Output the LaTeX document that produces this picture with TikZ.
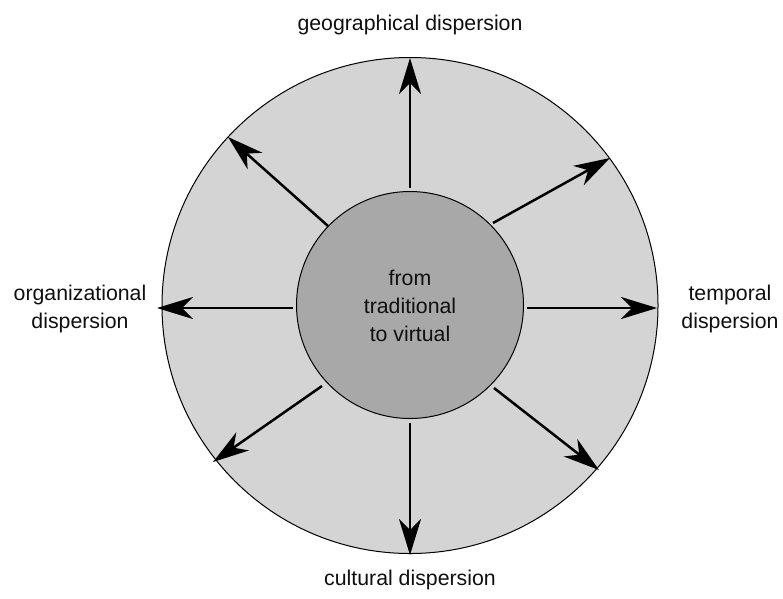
\documentclass[tikz,border=0pt]{standalone}
\usepackage{fontspec}
\setmainfont{Liberation Sans}
\usetikzlibrary{arrows.meta}
\definecolor{outerfill}{RGB}{212,212,212}
\definecolor{innerfill}{RGB}{168,168,168}
\definecolor{txt}{RGB}{15,15,15}
\begin{document}
\begin{tikzpicture}[x=1pt,y=-1pt,
  ring/.style={circle,draw=black,line width=1pt,inner sep=0pt},
  spoke/.style={line width=2.5pt,-{Stealth[length=36pt,width=22pt,inset=11pt]}},
  lbl/.style={font=\fontsize{21.3}{28}\selectfont,text=txt,align=center,inner sep=0pt}]
\useasboundingbox (0,0) rectangle (783,598);
\fill[white] (0,0) rectangle (783,598);
\node[ring,fill=outerfill,minimum size=496pt] (outer) at (410,305.5) {};
\node[ring,fill=innerfill,minimum size=227pt] (inner) at (410,305) {};
\node[lbl] (center) at (410,306) {from\\traditional\\to virtual};
% spoke endpoints
\coordinate (s1) at (410,188);  \coordinate (e1) at (410,58);
\coordinate (s2) at (493,223);  \coordinate (e2) at (610,158);
\coordinate (s3) at (527,308);  \coordinate (e3) at (657,308);
\coordinate (s4) at (494,388);  \coordinate (e4) at (599,470);
\coordinate (s5) at (410,423);  \coordinate (e5) at (410,555);
\coordinate (s6) at (322,386);  \coordinate (e6) at (213,462);
\coordinate (s7) at (293,308);  \coordinate (e7) at (157,308);
\coordinate (s8) at (328,226);  \coordinate (e8) at (228,137);
\foreach \i in {1,...,8} {\draw[spoke] (s\i) -- (e\i);}
\node[lbl] (geo) at (410,25) {geographical dispersion};
\node[lbl] (temp) at (730,309) {temporal\\dispersion};
\node[lbl] (org) at (80,309) {organizational\\dispersion};
\node[lbl] (cult) at (410,580) {cultural dispersion};
\end{tikzpicture}
\end{document}
